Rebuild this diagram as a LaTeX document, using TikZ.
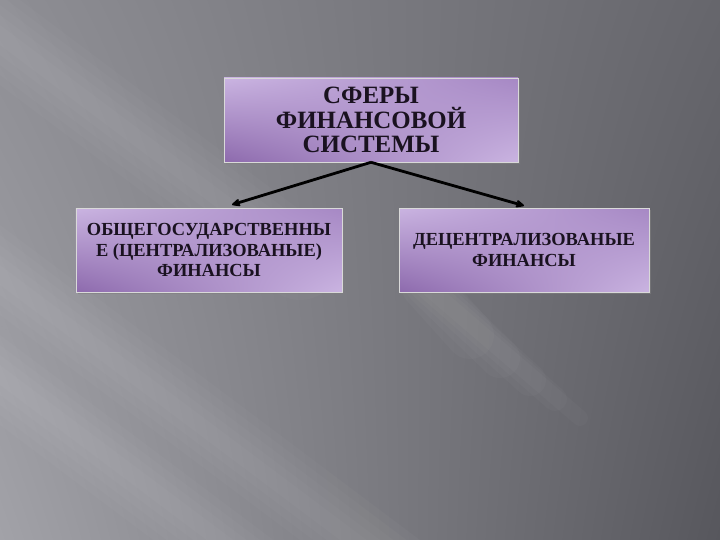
\documentclass[tikz,border=0pt]{standalone}
\usepackage{fontspec}
\setmainfont{Liberation Serif}
\usetikzlibrary{arrows.meta, % arrow tips
  positioning,               % relative placement of nodes
  shadings,                  % four-corner shading
  shadows}                   % drop shadow of the boxes

\definecolor{bgLight}{HTML}{A2A2A8}
\definecolor{bgTop}{HTML}{8E8E94}
\definecolor{bgRight}{HTML}{66666C}
\definecolor{bgDark}{HTML}{57575D}
\definecolor{lavLight}{HTML}{CAB4E1}
\definecolor{lavMid}{HTML}{A688C4}
\definecolor{lavDark}{HTML}{8D6AAD}
\definecolor{inkText}{HTML}{1A1220}

\begin{document}
\begin{tikzpicture}[x=1bp,y=-1bp,node distance=130bp,on grid,
  >={Stealth[round,length=11bp,width=10bp]},
  % global: 1 unit = 1 pixel of the slide, y grows downwards
  %
  % the boxes
  sphere/.style={draw=gray!30,line width=0.6bp,
    upper left=lavLight,upper right=lavMid,lower left=lavDark,lower right=lavLight,
    drop shadow={opacity=0.6,shadow xshift=2bp,shadow yshift=-2bp},
    minimum height=84bp,inner sep=0pt,align=center,text=inkText},
  %
  title/.style={sphere,minimum width=294bp,font=\fontsize{25}{24.5}\selectfont\bfseries},
  %
  branch/.style={sphere,font=\fontsize{18.5}{21}\selectfont\bfseries},
  %
  streak/.style={white,opacity=0.025,line cap=round},
  %
  link/.style={->,line width=2.8bp,black}]

  % background of the slide
  \shade[upper left=bgTop,upper right=bgRight,lower left=bgLight,lower right=bgDark]
    (0,0) rectangle (720,540);
  \useasboundingbox (0,0) rectangle (720,540);

  % soft light streaks, running down to the right
  \begin{scope}
    \clip (0,0) rectangle (720,540);
    \foreach \w in {80,64,48,32,16} {
      \draw[streak,line width=\w bp] (-100,200) -- (420,590);
      \draw[streak,line width=\w bp] (-100,300) -- (300,600);
      \draw[streak,line width=\w bp] (-60,-10) -- (300,260);
    }
    % the short one below the right box fades out
    \foreach \w/\ex/\ey in {48/470/335,40/500/358,32/530/380,24/555/399,16/580/418}
      \draw[streak,line width=\w bp] (425,285) -- (\ex,\ey);
  \end{scope}

  \node [title] (top) at (371,120) {СФЕРЫ\\ФИНАНСОВОЙ\\СИСТЕМЫ};
  \node [branch,minimum width=266bp] (state) [below=of top,xshift=-162bp]
    {ОБЩЕГОСУДАРСТВЕННЫ\\Е (ЦЕНТРАЛИЗОВАНЫЕ)\\ФИНАНСЫ};
  \node [branch,minimum width=250bp] (local) [below=of top,xshift=153bp]
    {ДЕЦЕНТРАЛИЗОВАНЫЕ\\ФИНАНСЫ};

  \draw [link] (top.south) -- ([xshift=23bp,yshift=3bp]state.north);
  \draw [link] (top.south) -- ([yshift=2bp]local.north);

\end{tikzpicture}
\end{document}
